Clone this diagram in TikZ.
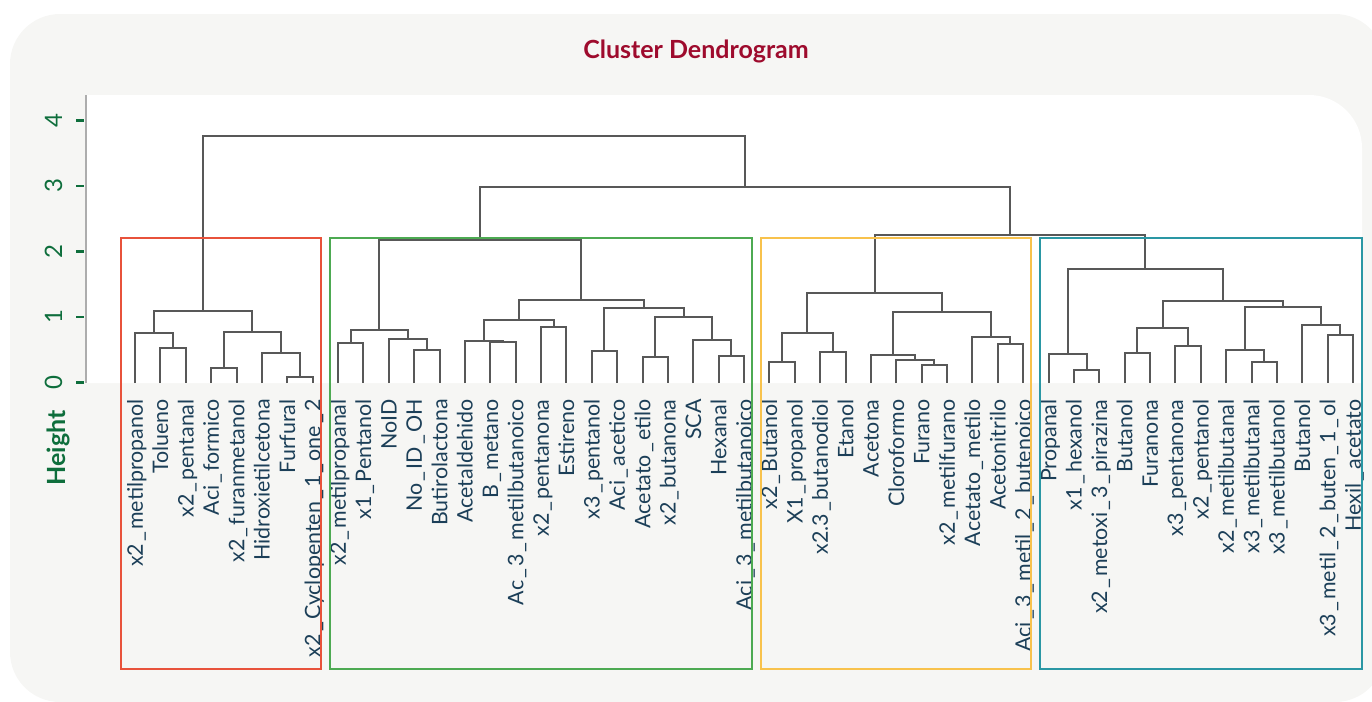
\documentclass[tikz,border=0pt]{standalone}
\usepackage{fontspec}
\setmainfont{Lato}
\usepackage{xcolor}
\usetikzlibrary{calc}
\definecolor{panelgray}{HTML}{F6F6F4}
\definecolor{titlered}{HTML}{9E0B2D}
\definecolor{axisgreen}{HTML}{0E6E3C}
\definecolor{leafnavy}{HTML}{1C3F58}
\definecolor{branchgray}{HTML}{585858}
\definecolor{kred}{HTML}{E8523B}
\definecolor{kgreen}{HTML}{4DAA52}
\definecolor{kyellow}{HTML}{F8C24C}
\definecolor{kteal}{HTML}{2A97A4}
\tikzset{
  branch/.style={draw=branchgray, line width=1pt},
  leaflabel/.style={rotate=90, anchor=base east, inner sep=0pt, text=leafnavy,
    font=\fontsize{10.7}{12}\selectfont},
  ticklabel/.style={rotate=90, anchor=base, inner sep=0pt, text=axisgreen,
    font=\fontsize{12}{14}\selectfont},
  clusterbox/.style={line width=1pt},
}
% wider underscore for the leaf names
\newcommand{\us}{\kern0.1em\_\kern0.1em}
% \merge{name}{left}{right}{height}
\newcommand{\merge}[4]{%
  \coordinate (#1-mid) at ($(#2)!0.5!(#3)$);
  \coordinate (#1) at (#1-mid |- 0,{382.5-65.5*#4});
  \draw[branch] (#2) |- (#1) -| (#3);
}

\begin{document}
\begin{tikzpicture}[x=0.5pt, y=-0.5pt]
  \useasboundingbox (0,0) rectangle (1372,702);

  % panels
  \fill[panelgray, rounded corners=25pt] (10,14) rectangle (1385,702);
  \fill[white] (86,383) -- (86,95) -- (1309,95)
    arc[start angle=90, end angle=0, radius=26.5pt] -- (1362,383) -- cycle;

  \node[font=\fontsize{12.5}{14}\selectfont\bfseries, text=titlered] (title)
    at (696,51) {Cluster Dendrogram};

  % axis
  \draw[black!32, line width=1pt] (86,95) -- (86,383);
  \foreach \h in {0,...,4} {
    \draw[axisgreen, line width=1.2pt] (76,{382.5-65.5*\h}) -- (84,{382.5-65.5*\h});
    \node[ticklabel] (h\h) at (62,{382.5-65.5*\h}) {\h};
  }
  \node[rotate=90, text=axisgreen, font=\fontsize{12.5}{14}\selectfont\bfseries]
    (ylab) at (58,448) {Height};

  % leaves
  \foreach \lab [count=\i from 0] in {x2\us metilpropanol, Tolueno, x2\us pentanal,
      Aci\us formico, x2\us furanmetanol, Hidroxietilcetona, Furfural,
      x2\us Cyclopenten\us 1\us one\us 2, x2\us metilpropanal, x1\us Pentanol, NoID,
      No\us ID\us OH, Butirolactona, Acetaldehido, B\us metano, Ac\us 3\us metilbutanoico,
      x2\us pentanona, Estireno, x3\us pentanol, Aci\us acetico, Acetato\us etilo,
      x2\us butanona, SCA, Hexanal, Aci\us 3\us metilbutanoico, x2\us Butanol,
      X1\us propanol, x2.3\us butanodiol, Etanol, Acetona, Cloroformo, Furano,
      x2\us metilfurano, Acetato\us metilo, Acetonitrilo, Aci\us 3\us metil\us 2\us butenoico,
      Propanal, x1\us hexanol, x2\us metoxi\us 3\us pirazina, Butanol, Furanona,
      x3\us pentanona, x2\us pentanol, x2\us metilbutanal, x3\us metilbutanal,
      x3\us metilbutanol, Butanol, x3\us metil\us 2\us buten\us 1\us ol, Hexil\us acetato} {
    \coordinate (l\i) at ({135+25.375*\i},383);
    \node[leaflabel] (lab\i) at ({142.8+25.375*\i},399) {\lab};
  }

  % red cluster
  \merge{r1}{l1}{l2}{0.53}
  \merge{r2}{l0}{r1}{0.76}
  \merge{r3}{l3}{l4}{0.22}
  \merge{r4}{l6}{l7}{0.09}
  \merge{r5}{l5}{r4}{0.45}
  \merge{r6}{r3}{r5}{0.77}
  \merge{red}{r2}{r6}{1.09}

  % green cluster
  \merge{g1}{l8}{l9}{0.61}
  \merge{g2}{l11}{l12}{0.50}
  \merge{g3}{l10}{g2}{0.67}
  \merge{g4}{g1}{g3}{0.80}
  \merge{g5}{l14}{l15}{0.62}
  \merge{g6}{l13}{g5}{0.64}
  \merge{g7}{l16}{l17}{0.85}
  \merge{g8}{g6}{g7}{0.95}
  \merge{g9}{l18}{l19}{0.48}
  \merge{g10}{l20}{l21}{0.39}
  \merge{g11}{l23}{l24}{0.40}
  \merge{g12}{l22}{g11}{0.65}
  \merge{g13}{g10}{g12}{1.00}
  \merge{g14}{g9}{g13}{1.13}
  \merge{g15}{g8}{g14}{1.26}
  \merge{green}{g4}{g15}{2.18}

  % yellow cluster
  \merge{o1}{l25}{l26}{0.31}
  \merge{o2}{l27}{l28}{0.46}
  \merge{o3}{o1}{o2}{0.76}
  \merge{o4}{l31}{l32}{0.27}
  \merge{o5}{l30}{o4}{0.34}
  \merge{o6}{l29}{o5}{0.42}
  \merge{o7}{l34}{l35}{0.59}
  \merge{o8}{l33}{o7}{0.69}
  \merge{o9}{o6}{o8}{1.08}
  \merge{yellow}{o3}{o9}{1.37}

  % teal cluster
  \merge{b1}{l37}{l38}{0.19}
  \merge{b2}{l36}{b1}{0.44}
  \merge{b3}{l39}{l40}{0.45}
  \merge{b4}{l41}{l42}{0.56}
  \merge{b5}{b3}{b4}{0.83}
  \merge{b6}{l44}{l45}{0.32}
  \merge{b7}{l43}{b6}{0.50}
  \merge{b8}{l47}{l48}{0.73}
  \merge{b9}{l46}{b8}{0.88}
  \merge{b10}{b7}{b9}{1.15}
  \merge{b11}{b5}{b10}{1.25}
  \merge{teal}{b2}{b11}{1.73}

  % top of the tree
  \merge{yt}{yellow}{teal}{2.25}
  \merge{gyt}{green}{yt}{2.98}
  \merge{root}{red}{gyt}{3.76}

  % cluster boxes
  \draw[kred, clusterbox] (121,238) rectangle (321,669);
  \draw[kgreen, clusterbox] (329.5,238) rectangle (752,669);
  \draw[kyellow, clusterbox] (761,238) rectangle (1031,669);
  \draw[kteal, clusterbox] (1040,238) rectangle (1361.5,669);
\end{tikzpicture}
\end{document}
